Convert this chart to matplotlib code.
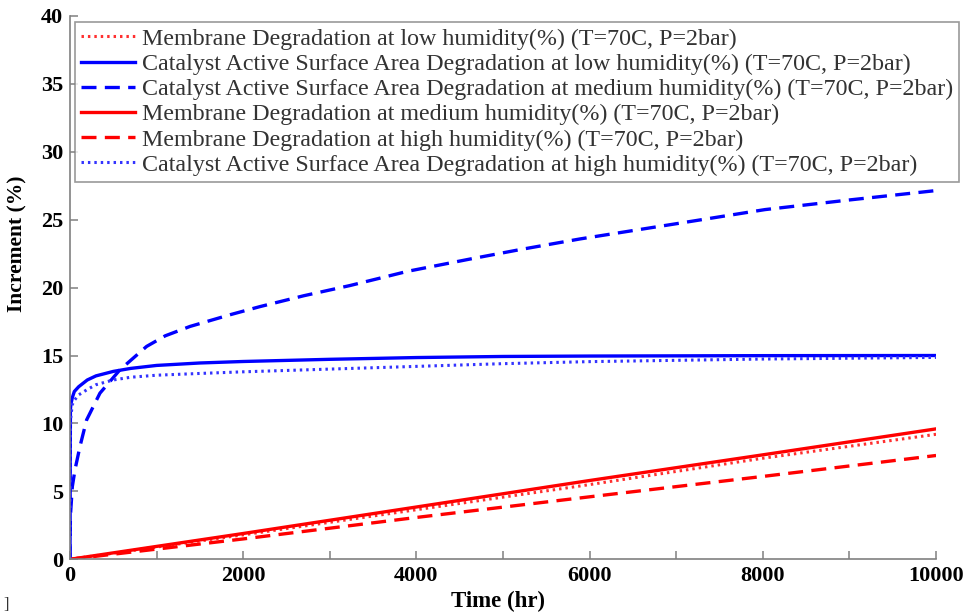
import numpy as np
import matplotlib
matplotlib.use('Agg')
import matplotlib.pyplot as plt
from matplotlib.ticker import MultipleLocator

plt.rcParams['font.family'] = ['Liberation Serif', 'DejaVu Serif']

# time axis (hr) for the catalyst curves
t_cat = [0, 5, 10, 27, 50, 100, 200, 300, 500, 700, 1000, 1500, 2000, 3000, 4000, 5000, 6000, 8000, 10000]
# catalyst ASA degradation, low humidity (solid blue)
cat_low = [0, 11.0, 11.4, 11.9, 12.35, 12.7, 13.2, 13.5, 13.83, 14.05, 14.27, 14.45, 14.56, 14.72, 14.85, 14.93, 14.96, 14.99, 15.0]
# catalyst ASA degradation, high humidity (dotted blue)
cat_high = [0, 9.8, 10.5, 11.4, 11.7, 12.1, 12.5, 12.85, 13.2, 13.4, 13.55, 13.68, 13.8, 14.0, 14.2, 14.4, 14.55, 14.74, 14.86]

# catalyst ASA degradation, medium humidity (dashed blue)
t_med = [0, 5, 27, 58, 115, 192, 346, 577, 885, 1100, 1386, 1848, 2194, 2700, 3233, 3900, 4619, 5200, 5889, 7000, 8025, 9000, 10000]
cat_med = [0, 3.2, 5.35, 6.6, 8.3, 10.26, 12.23, 13.95, 15.67, 16.45, 17.14, 18.0, 18.6, 19.4, 20.15, 21.2, 22.1, 22.8, 23.58, 24.7, 25.74, 26.45, 27.14]

# membrane degradation
t_mem = [0, 2000, 4000, 6000, 8000, 10000]
mem_low = [0, 1.8, 3.65, 5.5, 7.44, 9.2]
mem_med = [0, 1.9, 3.85, 5.8, 7.69, 9.6]
mem_high = [0, 1.5, 3.08, 4.6, 6.1, 7.64]

suffix = ' (T=70C, P=2bar)'
labels = [
    'Membrane Degradation at low humidity(%)' + suffix,
    'Catalyst Active Surface Area Degradation at low humidity(%)' + suffix,
    'Catalyst Active Surface Area Degradation at medium humidity(%)' + suffix,
    'Membrane Degradation at medium humidity(%)' + suffix,
    'Membrane Degradation at high humidity(%)' + suffix,
    'Catalyst Active Surface Area Degradation at high humidity(%)' + suffix,
]

fig = plt.figure(figsize=(9.64, 6.12), dpi=100)
ax = fig.add_axes([0.0726, 0.0861, 0.8984, 0.888])

dot = (0, (0.8, 1.3))
dash = (0, (4.5, 2.5))
ax.plot(t_mem, mem_low, color='#ff3030', ls=dot, lw=2.2, label=labels[0])
ax.plot(t_cat, cat_low, color='#0000ff', ls='-', lw=2.4, label=labels[1])
ax.plot(t_med, cat_med, color='#0000ff', ls=dash, lw=2.4, label=labels[2])
ax.plot(t_mem, mem_med, color='#ff0000', ls='-', lw=2.4, label=labels[3])
ax.plot(t_mem, mem_high, color='#ff0000', ls=dash, lw=2.4, label=labels[4])
ax.plot(t_cat, cat_high, color='#3333ff', ls=dot, lw=2.2, label=labels[5])

ax.set_xlim(0, 10000)
ax.set_ylim(0, 40)
ax.xaxis.set_major_locator(MultipleLocator(2000))
ax.xaxis.set_minor_locator(MultipleLocator(1000))
ax.yaxis.set_major_locator(MultipleLocator(5))

for s in ['top', 'right']:
    ax.spines[s].set_visible(False)
for s in ['left', 'bottom']:
    ax.spines[s].set_color('#808080')
    ax.spines[s].set_linewidth(1.2)

ax.tick_params(which='both', direction='in', length=6, width=1.1, color='#808080')
ax.tick_params(labelsize=16, pad=5)
for lab in ax.get_xticklabels() + ax.get_yticklabels():
    lab.set_fontweight('bold')

ax.set_xlabel('Time (hr)', fontsize=16.5, fontweight='bold')
ax.set_ylabel('Increment (%)', fontsize=15.5, fontweight='bold')
ax.xaxis.set_label_coords(0.494, -0.058)
ax.yaxis.set_label_coords(-0.049, 0.58)

leg = ax.legend(loc='upper left', bbox_to_anchor=(0.0778, 0.964), bbox_transform=fig.transFigure,
                borderaxespad=0, fontsize=17.3, frameon=True, fancybox=False, handlelength=2.25,
                handletextpad=0.3, labelspacing=0.14, borderpad=0.25)
leg.get_frame().set_edgecolor('#808080')
leg.get_frame().set_linewidth(1.2)
for txt in leg.get_texts():
    txt.set_color('#333333')

fig.text(0.004, 0.005, ']', fontsize=12, color='#333333')

fig.savefig('out.png', dpi=100)
